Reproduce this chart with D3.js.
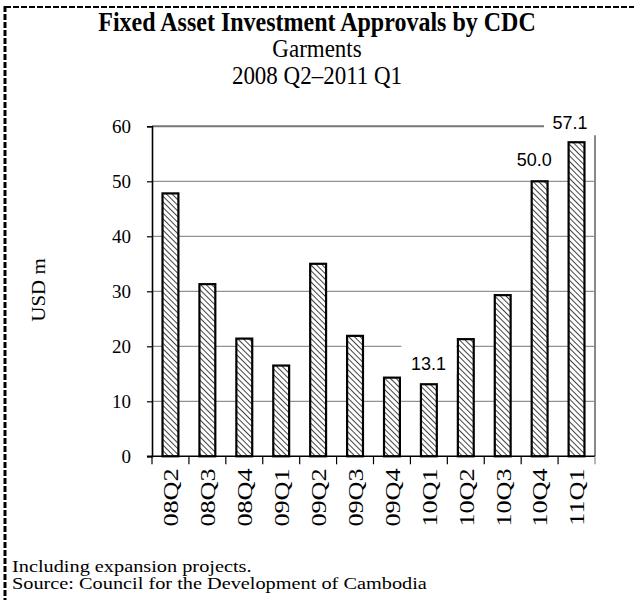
<!DOCTYPE html>
<html><head><meta charset="utf-8">
<script src="https://cdn.jsdelivr.net/npm/d3@7"></script>
<style>html,body{margin:0;padding:0;background:#fff;}svg{display:block;}</style>
</head><body>
<script>
const categories = ["08Q2","08Q3","08Q4","09Q1","09Q2","09Q3","09Q4","10Q1","10Q2","10Q3","10Q4","11Q1"];
const values = [47.8, 31.3, 21.4, 16.5, 35.0, 21.9, 14.3, 13.1, 21.3, 29.3, 50.0, 57.1];
const labelled = ["10Q1","10Q4","11Q1"];
const yTicks = [0,10,20,30,40,50,60];
const titleLines = ["Fixed Asset Investment Approvals by CDC","Garments","2008 Q2\u20132011 Q1"];
const yAxisTitle = "USD m";
const footnotes = ["Including expansion projects.","Source: Council for the Development of Cambodia"];

(function(){
const W = 634, H = 600;
const serif = "'Liberation Serif','Times New Roman',serif";
const sans = "'Liberation Sans',Arial,sans-serif";
const svg = d3.select("body").append("svg").attr("width", W).attr("height", H);

const defs = svg.append("defs");
const pat = defs.append("pattern").attr("id","hatch").attr("patternUnits","userSpaceOnUse")
  .attr("width",4).attr("height",4).attr("patternTransform","rotate(-45)");
pat.append("rect").attr("width",4).attr("height",4).attr("fill","#fff");
pat.append("line").attr("x1",0).attr("y1",0).attr("x2",0).attr("y2",4)
  .attr("stroke","#222").attr("stroke-width",1.7);

// outer dashed border
svg.append("line").attr("x1",5).attr("y1",7).attr("x2",W).attr("y2",7)
  .attr("stroke","#000").attr("stroke-width",2).attr("stroke-dasharray","6,2");
svg.append("line").attr("x1",5).attr("y1",6).attr("x2",5).attr("y2",H)
  .attr("stroke","#000").attr("stroke-width",3).attr("stroke-dasharray","6,2");

// titles
const tg = svg.append("g").attr("font-family", serif).attr("text-anchor","middle").attr("fill","#000");
tg.append("text").attr("transform","translate(317,31) scale(1,1.1)").attr("font-size",24).attr("font-weight","bold").text(titleLines[0]);
tg.append("text").attr("transform","translate(317,57) scale(1,1.1)").attr("font-size",23).text(titleLines[1]);
tg.append("text").attr("transform","translate(317,84) scale(1,1.1)").attr("font-size",23).text(titleLines[2]);

const pLeft = 152, pRight = 595, pTop = 126.3, pBottom = 456.3;
const x = d3.scaleBand().domain(categories).range([pLeft, pRight]).paddingInner(0).paddingOuter(0);
const y = d3.scaleLinear().domain([0, 60]).range([pBottom, pTop]);

// gridlines
svg.append("g").selectAll("line").data(yTicks.filter(d => d > 0)).join("line")
  .attr("x1", pLeft).attr("x2", pRight).attr("y1", d => y(d)).attr("y2", d => y(d))
  .attr("stroke", "#777").attr("stroke-width", d => d === 60 ? 2 : 1);

// right axis (gray)
svg.append("line").attr("x1", pRight).attr("x2", pRight).attr("y1", pTop).attr("y2", pBottom)
  .attr("stroke","#888").attr("stroke-width",2);

// bars
const bw = x.bandwidth() * 0.43;
svg.append("g").selectAll("rect").data(categories).join("rect")
  .attr("x", (d) => x(d) + (x.bandwidth() - bw) / 2)
  .attr("y", (d,i) => y(values[i]))
  .attr("width", bw)
  .attr("height", (d,i) => pBottom - y(values[i]))
  .attr("fill", "url(#hatch)").attr("stroke", "#000").attr("stroke-width", 2.2);

// y axis
const yAxis = d3.axisLeft(y).tickValues(yTicks).tickSize(5).tickPadding(16).tickFormat(d3.format("d"));
const ya = svg.append("g").attr("transform", `translate(${pLeft},0)`).call(yAxis);
ya.select(".domain").attr("stroke","#000").attr("stroke-width",1.6);
ya.selectAll(".tick line").attr("stroke","#000").attr("stroke-width",1.2);
ya.selectAll(".tick text").attr("font-family", serif).attr("font-size", 19).attr("fill","#000");

// x axis
svg.append("line").attr("x1", pLeft - 5).attr("x2", pRight).attr("y1", pBottom).attr("y2", pBottom)
  .attr("stroke","#000").attr("stroke-width",1.6);
const bounds = categories.map(c => x(c)).concat([pRight]);
svg.append("g").selectAll("line").data(bounds).join("line")
  .attr("x1", d => d).attr("x2", d => d).attr("y1", pBottom).attr("y2", pBottom + 8)
  .attr("stroke", (d,i) => i === bounds.length - 1 ? "#888" : "#000").attr("stroke-width",1.2);
svg.append("g").selectAll("text").data(categories).join("text")
  .attr("transform", d => `translate(${x(d) + x.bandwidth()/2 + 0.5},${pBottom + 12}) rotate(-90) scale(1.25,1)`)
  .attr("dy","0.35em").attr("text-anchor","end")
  .attr("font-family", serif).attr("font-size", 21).attr("fill","#000").text(d => d);

// y axis title
svg.append("text").attr("transform", `translate(38,290) rotate(-90) scale(1.1,1)`)
  .attr("dy","0.35em").attr("text-anchor","middle")
  .attr("font-family", serif).attr("font-size", 19).attr("fill","#000").text(yAxisTitle);

// data labels with white background
const lab = svg.append("g");
const labPos = {
  "10Q1": {dx: -0.5, dy: -14, bg: [-27, -30, 55, 34]},
  "10Q4": {dx: -5.5, dy: -15, bg: [-21, -15, 42, 17]},
  "11Q1": {dx: -6.5, dy: -13, bg: [-26, -22, 56, 28]}
};
labelled.forEach(c => {
  const i = categories.indexOf(c);
  const cx = x(c) + x.bandwidth()/2 + labPos[c].dx;
  const cy = y(values[i]) + labPos[c].dy;
  const b = labPos[c].bg;
  lab.append("rect").attr("x", cx + b[0]).attr("y", cy + b[1]).attr("width", b[2]).attr("height", b[3]).attr("fill","#fff");
  lab.append("text").attr("transform", `translate(${cx},${cy}) scale(1,1.05)`).attr("text-anchor","middle")
    .attr("font-family", sans).attr("font-size", 18).attr("fill","#000").text(values[i].toFixed(1));
});

// footnotes
svg.append("g").selectAll("text").data(footnotes).join("text")
  .attr("transform", (d,i) => `translate(12,${571.5 + i * 17.5}) scale(1.27,1)`)
  .attr("font-family", serif).attr("font-size", 16).attr("fill","#000").text(d => d);
})();
</script>
</body></html>
